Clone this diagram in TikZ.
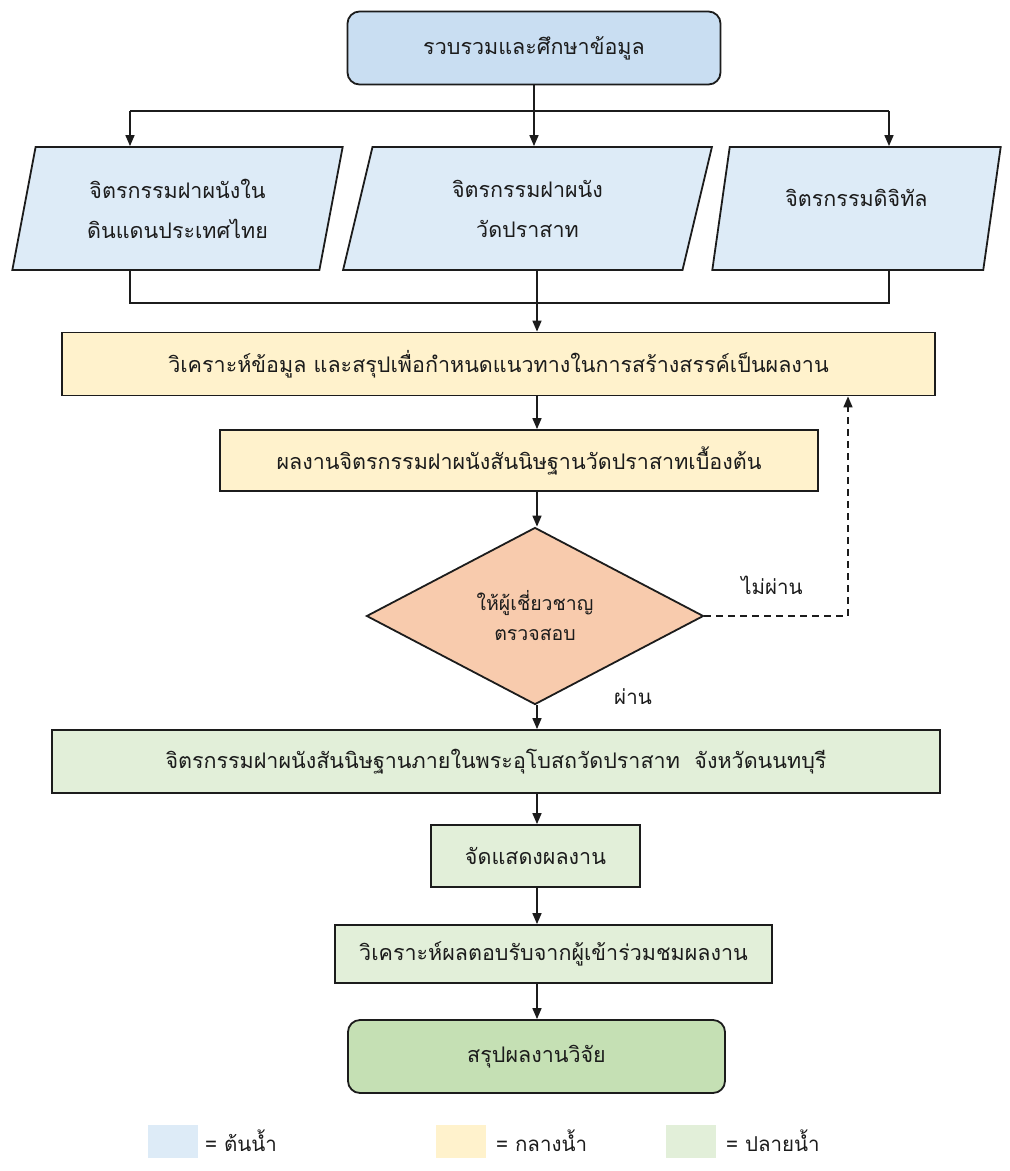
\documentclass[tikz,border=0pt]{standalone}
\usepackage{fontspec}
\newfontfamily\thaifont[Script=Thai]{Loma}
\usetikzlibrary{shapes.geometric,arrows.meta}
\definecolor{bluefill}{HTML}{DDEBF7}
\definecolor{bluetop}{HTML}{C9DEF2}
\definecolor{yelfill}{HTML}{FFF2CC}
\definecolor{orfill}{HTML}{F8CBAD}
\definecolor{grnfill}{HTML}{E2EFD9}
\definecolor{grnend}{HTML}{C5E0B4}
\definecolor{inkc}{HTML}{1C1C1C}
\tikzset{
  base/.style={draw=inkc, line width=1.8pt, text=inkc, align=center, inner sep=0pt,
    font=\thaifont\fontsize{21.5}{40}\selectfont},
  topbox/.style={base, rounded corners=12pt, fill=#1},
  rectbox/.style={base, fill=#1},
  parabox/.style={base, fill=bluefill, shape=trapezium, trapezium left angle=76,
    trapezium right angle=104, trapezium stretches=true},
  decbox/.style={base, fill=orfill, shape=diamond, aspect=1.9,
    font=\thaifont\fontsize{19.5}{30}\selectfont},
  lbl/.style={text=inkc, font=\thaifont\fontsize{20.5}{24}\selectfont, inner sep=0pt},
  swatch/.style={fill=#1, draw=none, minimum width=50pt, minimum height=33pt, inner sep=0pt},
  conn/.style={draw=inkc, line width=1.6pt},
  arr/.style={conn, -{Triangle[length=11pt,width=9pt]}},
}
\begin{document}
\begin{tikzpicture}[x=1pt,y=-1pt]
\useasboundingbox[fill=white] (0,0) rectangle (1010,1171);
% nodes
\node[topbox=bluetop, minimum width=373pt, minimum height=73pt] (top) at (534,48) {รวบรวมและศึกษาข้อมูล};
\node[parabox, minimum width=331pt, minimum height=123pt] (p1) at (177.5,208.5) {จิตรกรรมฝาผนังใน\\ดินแดนประเทศไทย};
\node[parabox, minimum width=369pt, minimum height=123pt] (p2) at (527.5,208.5) {จิตรกรรมฝาผนัง\\วัดปราสาท};
\node[parabox, minimum width=289pt, minimum height=123pt] (p3) at (856.5,208.5) {จิตรกรรมดิจิทัล\\[-18pt]\mbox{}};
\node[rectbox=yelfill, minimum width=873pt, minimum height=63pt] (y1) at (498.5,364) {วิเคราะห์ข้อมูล และสรุปเพื่อกำหนดแนวทางในการสร้างสรรค์เป็นผลงาน};
\node[rectbox=yelfill, minimum width=598pt, minimum height=61pt] (y2) at (519,460.5) {ผลงานจิตรกรรมฝาผนังสันนิษฐานวัดปราสาทเบื้องต้น};
\node[decbox, minimum width=337pt, minimum height=177pt] (dia) at (535,616) {ให้ผู้เชี่ยวชาญ\\ตรวจสอบ};
\node[rectbox=grnfill, minimum width=888pt, minimum height=63pt] (g1) at (496,761.5) {จิตรกรรมฝาผนังสันนิษฐานภายในพระอุโบสถวัดปราสาท\ \ จังหวัดนนทบุรี};
\node[rectbox=grnfill, minimum width=209pt, minimum height=62pt] (g2) at (535.5,856) {จัดแสดงผลงาน};
\node[rectbox=grnfill, minimum width=437pt, minimum height=58pt] (g3) at (553.5,954) {วิเคราะห์ผลตอบรับจากผู้เข้าร่วมชมผลงาน};
\node[topbox=grnend, minimum width=377pt, minimum height=73pt] (fin) at (536.5,1056.5) {สรุปผลงานวิจัย};
% labels
\node[lbl] (no) at (772,585) {ไม่ผ่าน};
\node[lbl] (yes) at (633,697) {ผ่าน};
% legend
\node[swatch=bluefill] (lb) at (173,1141) {};
\node[lbl, anchor=west] (lbt) at (205,1141) {= ต้นน้ำ};
\node[swatch=yelfill] (ly) at (461,1141) {};
\node[lbl, anchor=west] (lyt) at (496,1141) {= กลางน้ำ};
\node[swatch=grnfill] (lg) at (691,1141) {};
\node[lbl, anchor=west] (lgt) at (726,1141) {= ปลายน้ำ};
% coordinates
\coordinate (spine) at (537,0);
\coordinate (sL) at (130,111);
\coordinate (sR) at (889,111);
\coordinate (jL) at (130,303);
\coordinate (jR) at (889,303);
\coordinate (back) at (848,616);
% connectors
\draw[conn] (sL) -- (sR);
\draw[arr] (top.south) -- (top.south |- p2.north);
\draw[arr] (sL) -- (sL |- p1.north);
\draw[arr] (sR) -- (sR |- p3.north);
\draw[conn] (jL |- p1.south) -- (jL) -- (jR) -- (jR |- p3.south);
\draw[conn] (spine |- p2.south) -- (spine |- jL);
\draw[arr] (spine |- jL) -- (spine |- y1.north);
\draw[arr] (spine |- y1.south) -- (spine |- y2.north);
\draw[arr] (spine |- y2.south) -- (spine |- dia.north);
\draw[arr] (spine |- dia.south) -- (spine |- g1.north);
\draw[arr] (spine |- g1.south) -- (spine |- g2.north);
\draw[arr] (spine |- g2.south) -- (spine |- g3.north);
\draw[arr] (spine |- g3.south) -- (spine |- fin.north);
\draw[arr, dashed, dash pattern=on 7pt off 5pt] (dia.east) -- (back) -- (back |- y1.south);
\end{tikzpicture}
\end{document}
